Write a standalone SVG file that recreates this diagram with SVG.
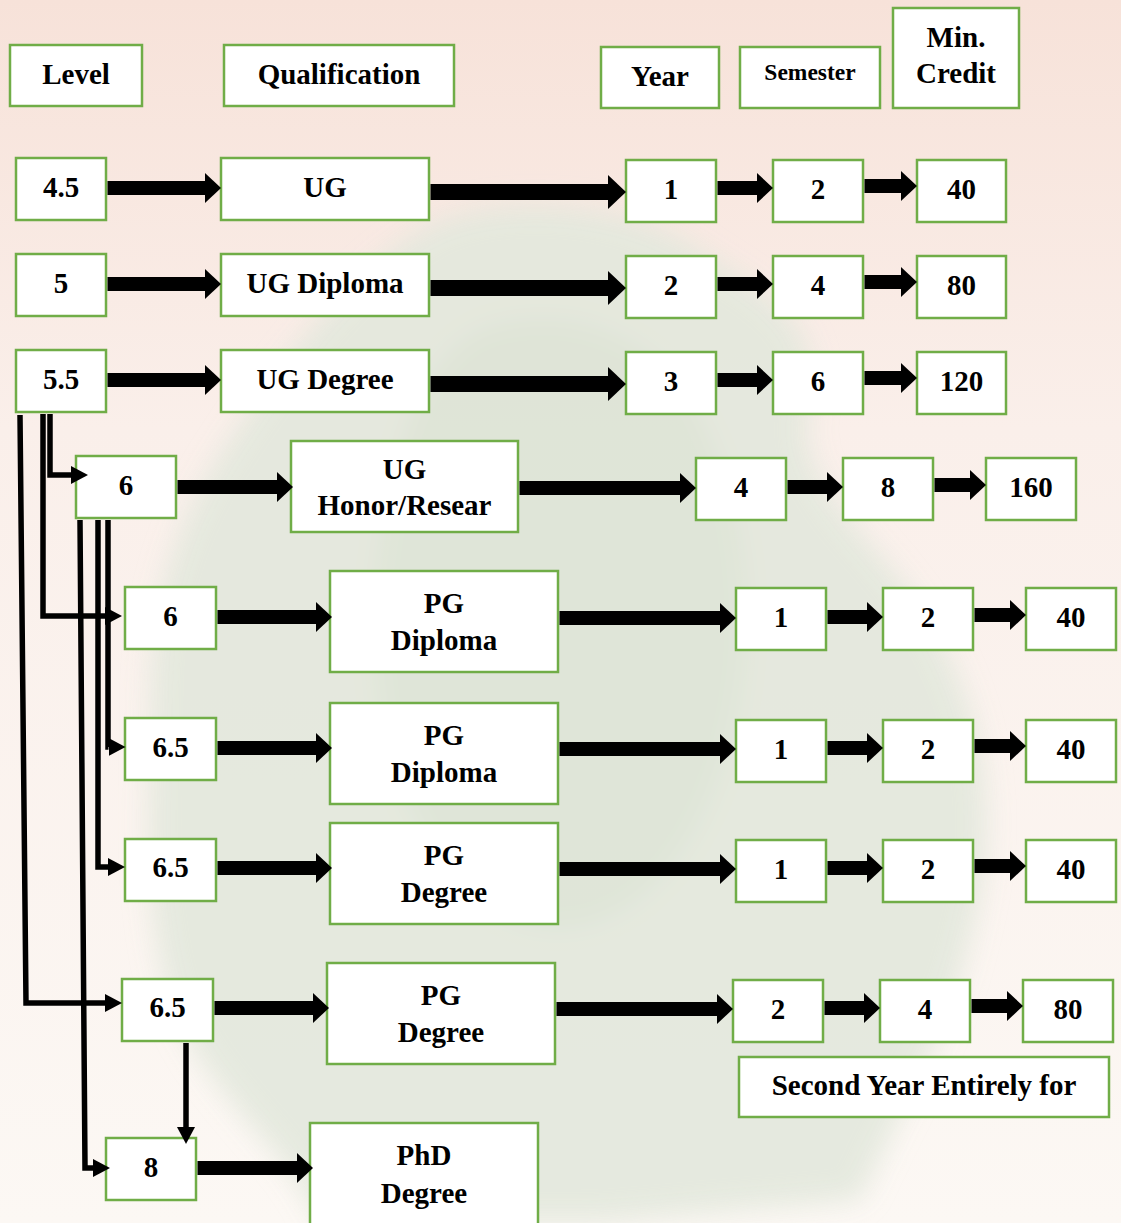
<svg xmlns="http://www.w3.org/2000/svg" width="1121" height="1223" viewBox="0 0 1121 1223">
<defs>
<linearGradient id="bg" x1="0" y1="0" x2="0" y2="1">
<stop offset="0" stop-color="#f7e2d9"/>
<stop offset="0.35" stop-color="#faefea"/>
<stop offset="1" stop-color="#fcf8f4"/>
</linearGradient>
<filter id="blur" x="-20%" y="-20%" width="140%" height="140%"><feGaussianBlur stdDeviation="14"/></filter>
<marker id="ah" markerUnits="userSpaceOnUse" markerWidth="16" markerHeight="30" refX="0" refY="15" orient="auto"><path d="M0,0 L16,15 L0,30 Z" fill="#000"/></marker>
<marker id="ahb" markerUnits="userSpaceOnUse" markerWidth="18" markerHeight="34" refX="0" refY="17" orient="auto"><path d="M0,0 L18,17 L0,34 Z" fill="#000"/></marker>
<marker id="ahs" markerUnits="userSpaceOnUse" markerWidth="17" markerHeight="18" refX="0" refY="9" orient="auto"><path d="M0,0 L17,9 L0,18 Z" fill="#000"/></marker>
</defs>
<style>
.box{fill:#fff;stroke:#70ad47;stroke-width:2.5}
.t{font-family:"Liberation Serif","Times New Roman",serif;font-weight:bold;font-size:29px;fill:#000;text-anchor:middle}
.sm{font-size:23.5px}
.thick{stroke:#000;stroke-width:14;fill:none;marker-end:url(#ah)}
.big{stroke:#000;stroke-width:16;fill:none;marker-end:url(#ahb)}
.thina{stroke:#000;stroke-width:5.5;fill:none;stroke-linejoin:miter;marker-end:url(#ahs)}
</style>
<rect x="0" y="0" width="1121" height="1223" fill="url(#bg)"/>
<g id="watermark" filter="url(#blur)" opacity="0.9">
<path d="M440,220 C520,190 640,205 700,250 C760,290 830,320 810,410 C790,480 880,540 930,620 C990,720 1000,830 970,940 C950,1030 900,1110 860,1200 L600,1223 L320,1223 C290,1150 200,1090 170,1000 C140,900 150,800 150,700 C150,610 170,540 210,470 C260,390 350,260 440,220 Z" fill="#e3e8dd"/>
<path d="M480,330 C560,300 660,330 700,420 C760,540 760,700 700,820 C650,920 560,960 480,900 C400,840 360,700 380,560 C395,450 420,360 480,330 Z" fill="#dde4d6"/>
</g>

<g id="h-level"><rect class="box" x="10" y="45" width="132" height="61"/><text class="t" x="76" y="84">Level</text></g>
<g id="h-qual"><rect class="box" x="224" y="45" width="230" height="61"/><text class="t" x="339" y="84">Qualification</text></g>
<g id="h-year"><rect class="box" x="601" y="47" width="118" height="61"/><text class="t" x="660" y="86">Year</text></g>
<g id="h-sem"><rect class="box" x="740" y="47" width="140" height="61"/><text class="t sm" x="810" y="80">Semester</text></g>
<g id="h-credit"><rect class="box" x="893" y="8" width="126" height="100"/><text class="t" x="956" y="47">Min.</text><text class="t" x="956" y="83">Credit</text></g>

<g id="r1-level"><rect class="box" x="16" y="158" width="90" height="62"/><text class="t" x="61" y="197">4.5</text></g>
<g id="r1-qual"><rect class="box" x="221" y="158" width="208" height="62"/><text class="t" x="325" y="197">UG</text></g>
<g id="r1-year"><rect class="box" x="626" y="160" width="90" height="62"/><text class="t" x="671" y="199">1</text></g>
<g id="r1-sem"><rect class="box" x="773" y="160" width="90" height="62"/><text class="t" x="818" y="199">2</text></g>
<g id="r1-credit"><rect class="box" x="917" y="160" width="89" height="62"/><text class="t" x="961.5" y="199">40</text></g>

<g id="r2-level"><rect class="box" x="16" y="254" width="90" height="62"/><text class="t" x="61" y="293">5</text></g>
<g id="r2-qual"><rect class="box" x="221" y="254" width="208" height="62"/><text class="t" x="325" y="293">UG Diploma</text></g>
<g id="r2-year"><rect class="box" x="626" y="256" width="90" height="62"/><text class="t" x="671" y="295">2</text></g>
<g id="r2-sem"><rect class="box" x="773" y="256" width="90" height="62"/><text class="t" x="818" y="295">4</text></g>
<g id="r2-credit"><rect class="box" x="917" y="256" width="89" height="62"/><text class="t" x="961.5" y="295">80</text></g>

<g id="r3-level"><rect class="box" x="16" y="350" width="90" height="62"/><text class="t" x="61" y="389">5.5</text></g>
<g id="r3-qual"><rect class="box" x="221" y="350" width="208" height="62"/><text class="t" x="325" y="389">UG Degree</text></g>
<g id="r3-year"><rect class="box" x="626" y="352" width="90" height="62"/><text class="t" x="671" y="391">3</text></g>
<g id="r3-sem"><rect class="box" x="773" y="352" width="90" height="62"/><text class="t" x="818" y="391">6</text></g>
<g id="r3-credit"><rect class="box" x="917" y="352" width="89" height="62"/><text class="t" x="961.5" y="391">120</text></g>

<g id="r4-level"><rect class="box" x="76" y="456" width="100" height="62"/><text class="t" x="126" y="495">6</text></g>
<g id="r4-qual"><rect class="box" x="291" y="441" width="227" height="91"/><text class="t" x="404.5" y="479">UG</text><text class="t" x="404.5" y="515">Honor/Resear</text></g>
<g id="r4-year"><rect class="box" x="696" y="458" width="90" height="62"/><text class="t" x="741" y="497">4</text></g>
<g id="r4-sem"><rect class="box" x="843" y="458" width="90" height="62"/><text class="t" x="888" y="497">8</text></g>
<g id="r4-credit"><rect class="box" x="986" y="458" width="90" height="62"/><text class="t" x="1031" y="497">160</text></g>

<g id="r5-level"><rect class="box" x="125" y="587" width="91" height="62"/><text class="t" x="170.5" y="626">6</text></g>
<g id="r5-qual"><rect class="box" x="330" y="571" width="228" height="101"/><text class="t" x="444" y="613">PG</text><text class="t" x="444" y="650">Diploma</text></g>
<g id="r5-year"><rect class="box" x="736" y="588" width="90" height="62"/><text class="t" x="781" y="627">1</text></g>
<g id="r5-sem"><rect class="box" x="883" y="588" width="90" height="62"/><text class="t" x="928" y="627">2</text></g>
<g id="r5-credit"><rect class="box" x="1026" y="588" width="90" height="62"/><text class="t" x="1071" y="627">40</text></g>

<g id="r6-level"><rect class="box" x="125" y="718" width="91" height="62"/><text class="t" x="170.5" y="757">6.5</text></g>
<g id="r6-qual"><rect class="box" x="330" y="703" width="228" height="101"/><text class="t" x="444" y="745">PG</text><text class="t" x="444" y="782">Diploma</text></g>
<g id="r6-year"><rect class="box" x="736" y="720" width="90" height="62"/><text class="t" x="781" y="759">1</text></g>
<g id="r6-sem"><rect class="box" x="883" y="720" width="90" height="62"/><text class="t" x="928" y="759">2</text></g>
<g id="r6-credit"><rect class="box" x="1026" y="720" width="90" height="62"/><text class="t" x="1071" y="759">40</text></g>

<g id="r7-level"><rect class="box" x="125" y="839" width="91" height="62"/><text class="t" x="170.5" y="877">6.5</text></g>
<g id="r7-qual"><rect class="box" x="330" y="823" width="228" height="101"/><text class="t" x="444" y="865">PG</text><text class="t" x="444" y="902">Degree</text></g>
<g id="r7-year"><rect class="box" x="736" y="840" width="90" height="62"/><text class="t" x="781" y="879">1</text></g>
<g id="r7-sem"><rect class="box" x="883" y="840" width="90" height="62"/><text class="t" x="928" y="879">2</text></g>
<g id="r7-credit"><rect class="box" x="1026" y="840" width="90" height="62"/><text class="t" x="1071" y="879">40</text></g>

<g id="r8-level"><rect class="box" x="122" y="979" width="91" height="62"/><text class="t" x="167.5" y="1017">6.5</text></g>
<g id="r8-qual"><rect class="box" x="327" y="963" width="228" height="101"/><text class="t" x="441" y="1005">PG</text><text class="t" x="441" y="1042">Degree</text></g>
<g id="r8-year"><rect class="box" x="733" y="980" width="90" height="62"/><text class="t" x="778" y="1019">2</text></g>
<g id="r8-sem"><rect class="box" x="880" y="980" width="90" height="62"/><text class="t" x="925" y="1019">4</text></g>
<g id="r8-credit"><rect class="box" x="1023" y="980" width="90" height="62"/><text class="t" x="1068" y="1019">80</text></g>
<g id="r8-note"><rect class="box" x="739" y="1057" width="370" height="60"/><text class="t" x="924" y="1095">Second Year Entirely for</text></g>

<g id="r9-level"><rect class="box" x="106" y="1138" width="90" height="62"/><text class="t" x="151" y="1177">8</text></g>
<g id="r9-qual"><rect class="box" x="310" y="1123" width="228" height="110"/><text class="t" x="424" y="1165">PhD</text><text class="t" x="424" y="1203">Degree</text></g>

<g id="connectors">
<line class="thick" x1="107.5" y1="188" x2="205" y2="188"/>
<line class="big" x1="430.5" y1="192" x2="608" y2="192"/>
<line class="thick" x1="717.5" y1="188" x2="757" y2="188"/>
<line class="thick" x1="864.5" y1="186" x2="901" y2="186"/>
<line class="thick" x1="107.5" y1="284" x2="205" y2="284"/>
<line class="big" x1="430.5" y1="288" x2="608" y2="288"/>
<line class="thick" x1="717.5" y1="284" x2="757" y2="284"/>
<line class="thick" x1="864.5" y1="282" x2="901" y2="282"/>
<line class="thick" x1="107.5" y1="380" x2="205" y2="380"/>
<line class="big" x1="430.5" y1="384" x2="608" y2="384"/>
<line class="thick" x1="717.5" y1="380" x2="757" y2="380"/>
<line class="thick" x1="864.5" y1="378" x2="901" y2="378"/>
<line class="thick" x1="177.5" y1="487" x2="277" y2="487"/>
<line class="thick" x1="519.5" y1="488" x2="680" y2="488"/>
<line class="thick" x1="787.5" y1="487" x2="827" y2="487"/>
<line class="thick" x1="934.5" y1="485" x2="970" y2="485"/>
<line class="thick" x1="217.5" y1="617" x2="316" y2="617"/>
<line class="thick" x1="559.5" y1="618" x2="720" y2="618"/>
<line class="thick" x1="827.5" y1="617" x2="867" y2="617"/>
<line class="thick" x1="974.5" y1="615" x2="1010" y2="615"/>
<line class="thick" x1="217.5" y1="748" x2="316" y2="748"/>
<line class="thick" x1="559.5" y1="749" x2="720" y2="749"/>
<line class="thick" x1="827.5" y1="748" x2="867" y2="748"/>
<line class="thick" x1="974.5" y1="746" x2="1010" y2="746"/>
<line class="thick" x1="217.5" y1="868" x2="316" y2="868"/>
<line class="thick" x1="559.5" y1="869" x2="720" y2="869"/>
<line class="thick" x1="827.5" y1="868" x2="867" y2="868"/>
<line class="thick" x1="974.5" y1="866" x2="1010" y2="866"/>
<line class="thick" x1="214.5" y1="1008" x2="313" y2="1008"/>
<line class="thick" x1="556.5" y1="1009" x2="717" y2="1009"/>
<line class="thick" x1="824.5" y1="1008" x2="864" y2="1008"/>
<line class="thick" x1="971.5" y1="1006" x2="1007" y2="1006"/>
<line class="thick" x1="197.5" y1="1168" x2="297" y2="1168"/>
<path class="thina" d="M20,415 L26,1003 L105,1003"/>
<path class="thina" d="M43,414 L43,616 L105,616"/>
<path class="thina" d="M50,414 L50,475 L71,475"/>
<path class="thina" d="M80,520 L85,1168 L93,1168"/>
<path class="thina" d="M98,520 L98,867 L108,867"/>
<path class="thina" d="M108,520 L108,747 L108.5,747"/>
<line class="thina" x1="186" y1="1043" x2="186" y2="1127"/>
</g>
</svg>
